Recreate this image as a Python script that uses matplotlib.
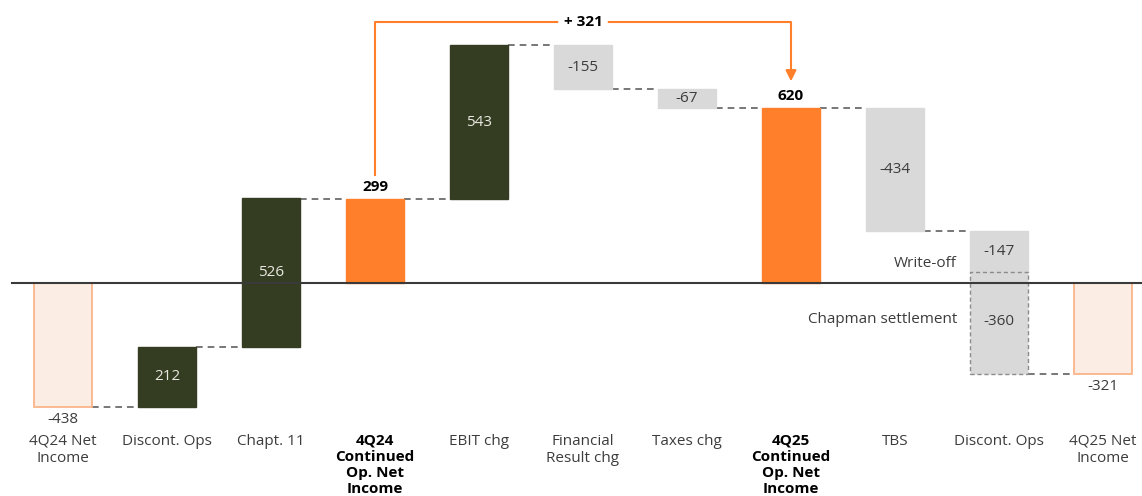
import matplotlib
matplotlib.use("Agg")
import matplotlib.pyplot as plt
from matplotlib.patches import Rectangle

categories = ["4Q24 Net\nIncome", "Discont. Ops", "Chapt. 11", "4Q24\nContinued\nOp. Net\nIncome",
              "EBIT chg", "Financial\nResult chg", "Taxes chg", "4Q25\nContinued\nOp. Net\nIncome",
              "TBS", "Discont. Ops", "4Q25 Net\nIncome"]
bold_cats = [3, 7]
kinds = ["nettotal", "pos", "pos", "total", "pos", "neg", "neg", "total", "neg", "neg2", "nettotal"]
values = [-438, 212, 526, 299, 543, -155, -67, 620, -434, -147, -321]
split_values = [-147, -360]
split_labels = ["Write-off", "Chapman settlement"]
bridge_text = "+ 321"

plt.rcParams['font.family'] = ['Open Sans', 'DejaVu Sans']

W, H = 1142, 496
fig = plt.figure(figsize=(W / 100, H / 100), dpi=100)
ax = fig.add_axes([0, 0, 1, 1])
ax.set_xlim(-0.606, 10.375)
ax.set_ylim(-755, 1003)
ax.axis('off')

GREEN = "#343d21"
ORANGE = "#ff7f2a"
LFILL = "#fcede4"
LEDGE = "#f9b58a"
GRAY = "#d9d9d9"
TXT = "#3c3c3c"
FS = 11
bw = 0.56

def bar(x, y0, y1, fc, ec=None, ls='-', lw=1.0):
    lo, hi = min(y0, y1), max(y0, y1)
    ax.add_patch(Rectangle((x - bw / 2, lo), bw, hi - lo, facecolor=fc,
                           edgecolor=ec if ec else fc, linestyle=ls, linewidth=lw, zorder=2))

def conn(x0, x1, y):
    ax.plot([x0 + bw / 2, x1 - bw / 2], [y, y], color="#606060", lw=1.2,
            ls=(0, (4, 3)), zorder=1)

level = 0
for i, (k, v) in enumerate(zip(kinds, values)):
    if k == "nettotal":
        bar(i, 0, v, LFILL, LEDGE, lw=1.3)
        ax.text(i, v - 18, f"{v}", ha='center', va='top', fontsize=FS, color=TXT)
        start, end = 0, v
    elif k == "total":
        bar(i, 0, v, ORANGE)
        ax.text(i, v + 18, f"{v}", ha='center', va='bottom', fontsize=FS,
                fontweight='bold', color='black')
        start, end = 0, v
    elif k == "pos":
        bar(i, level, level + v, GREEN)
        ax.text(i, level + v / 2, f"{v}", ha='center', va='center', fontsize=FS, color='#e8e8e0')
        start, end = level, level + v
    elif k == "neg":
        bar(i, level, level + v, GRAY)
        ax.text(i, level + v / 2, f"{v}", ha='center', va='center', fontsize=FS, color=TXT)
        start, end = level, level + v
    elif k == "neg2":
        y = level
        for j, sv in enumerate(split_values):
            if j == 0:
                bar(i, y, y + sv, GRAY)
                ax.text(i, y + sv / 2, f"{sv}", ha='center', va='center', fontsize=FS, color=TXT)
                ax.text(i - 0.405, y + sv / 2 - 42, split_labels[j], ha='right', va='center',
                        fontsize=FS, color=TXT)
            else:
                bar(i, y, y + sv, GRAY, "#8c8c8c", ls=(0, (3, 2)), lw=1.0)
                ax.text(i, y + sv / 2 + 3, f"{sv}", ha='center', va='center', fontsize=FS, color=TXT)
                ax.text(i - 0.405, y + sv / 2 + 10, split_labels[j], ha='right', va='center',
                        fontsize=FS, color=TXT)
            y += sv
        start, end = level, y
    if i > 0:
        conn(i - 1, i, start if k in ("pos", "neg", "neg2") else end)
    level = end

# baseline
ax.plot([-0.49, 10.375], [0, 0], color="#3a3a3a", lw=1.5, zorder=3)

# category labels
for i, c in enumerate(categories):
    ax.text(i, -535, c, ha='center', va='top', fontsize=FS, color='black' if i in bold_cats else TXT,
            fontweight='bold' if i in bold_cats else 'normal', linespacing=1.18)

# bridge annotation
y_top = 925
a, b = 3, 7
ax.plot([a, a, b, b], [values[a] + 84, y_top, y_top, values[b] + 110], color=ORANGE, lw=1.5, zorder=3)
ax.annotate("", xy=(b, values[b] + 85), xytext=(b, values[b] + 130),
            arrowprops=dict(arrowstyle='-|>', color=ORANGE, lw=1.5, mutation_scale=16), zorder=3)
ax.text((a + b) / 2, y_top, bridge_text, ha='center', va='center', fontsize=FS, fontweight='bold',
        color='black', bbox=dict(boxstyle='round,pad=0.35', fc='white', ec='none'), zorder=4)

fig.savefig("out.png", dpi=100)
